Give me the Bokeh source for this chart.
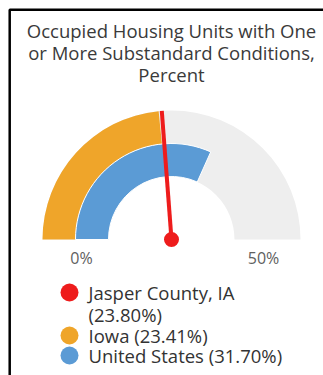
import math
from bokeh.plotting import figure
from bokeh.models import Range1d
from bokeh.core.properties import value
from bokeh.embed import file_html
from bokeh.resources import INLINE

title_lines = ["Occupied Housing Units with One",
               "or More Substandard Conditions,",
               "Percent"]
series_names = ["Jasper County, IA", "Iowa", "United States"]
series_values = [23.80, 23.41, 31.70]
series_colors = ["#EE1C1C", "#EFA52A", "#5B9BD5"]
gauge_min = 0
gauge_max = 50
tick_labels = ["0%", "50%"]

W, H = 323, 375
FONT = "Open Sans"

p = figure(width=W, height=H, output_backend="svg", toolbar_location=None,
           x_range=Range1d(0, W), y_range=Range1d(0, H),
           min_border=0)
p.axis.visible = False
p.grid.visible = False
p.outline_line_color = None
p.background_fill_color = "white"
p.border_fill_color = "white"

def sy(y):
    return H - y

# border (left and top)
p.line([9.2, 9.2, W], [sy(H), sy(9.2), sy(9.2)], line_color="black", line_width=2.5)

# title
for i, t in enumerate(title_lines):
    p.text(x=[171], y=[sy(30 + 22 * i)], text=[t], text_align="center", text_baseline="middle",
           text_font=value(FONT), text_font_size="18.5px", text_color="#3a3a3a")

cx, cy = 171, sy(239)
r_in, r_mid, r_out = 63, 96, 129

def ang(v):
    return math.pi - (v - gauge_min) / (gauge_max - gauge_min) * math.pi

# background
p.annular_wedge(x=[cx], y=[cy], inner_radius=r_in, outer_radius=r_out, start_angle=0, end_angle=math.pi,
                fill_color="#EEEEEE", line_color=None)
# Iowa (outer)
p.annular_wedge(x=[cx], y=[cy], inner_radius=r_mid, outer_radius=r_out,
                start_angle=ang(series_values[1]), end_angle=math.pi,
                fill_color=series_colors[1], line_color=None)
# US (inner)
p.annular_wedge(x=[cx], y=[cy], inner_radius=r_in, outer_radius=r_mid,
                start_angle=ang(series_values[2]), end_angle=math.pi,
                fill_color=series_colors[2], line_color="white", line_width=1)
# needle
a = ang(series_values[0])
p.segment(x0=[cx], y0=[cy], x1=[cx + r_out * math.cos(a)], y1=[cy + r_out * math.sin(a)],
          line_color=series_colors[0], line_width=4)
p.scatter(x=[cx], y=[cy], size=15, marker="circle", fill_color=series_colors[0], line_color=None)

# tick labels
p.text(x=[cx - 90, cx + 92], y=[sy(257), sy(257)], text=tick_labels,
       text_align="center", text_baseline="middle", text_font=value(FONT), text_font_size="16px",
       text_color="#606060")

# legend
leg_x = 69
txt_x = 88
leg_rows = [
    (292, [f"{series_names[0]}", f"({series_values[0]:.2f}%)"]),
    (335, [f"{series_names[1]} ({series_values[1]:.2f}%)"]),
    (355, [f"{series_names[2]} ({series_values[2]:.2f}%)"]),
]
for (yy, lines), col in zip(leg_rows, series_colors):
    p.scatter(x=[leg_x], y=[sy(yy)], size=18, marker="circle", fill_color=col, line_color=None)
    for j, t in enumerate(lines):
        p.text(x=[txt_x], y=[sy(yy + 22 * j)], text=[t], text_align="left", text_baseline="middle",
               text_font=value(FONT), text_font_size="18.5px", text_color="#333333")

open("out.html", "w").write(file_html(p, INLINE))
